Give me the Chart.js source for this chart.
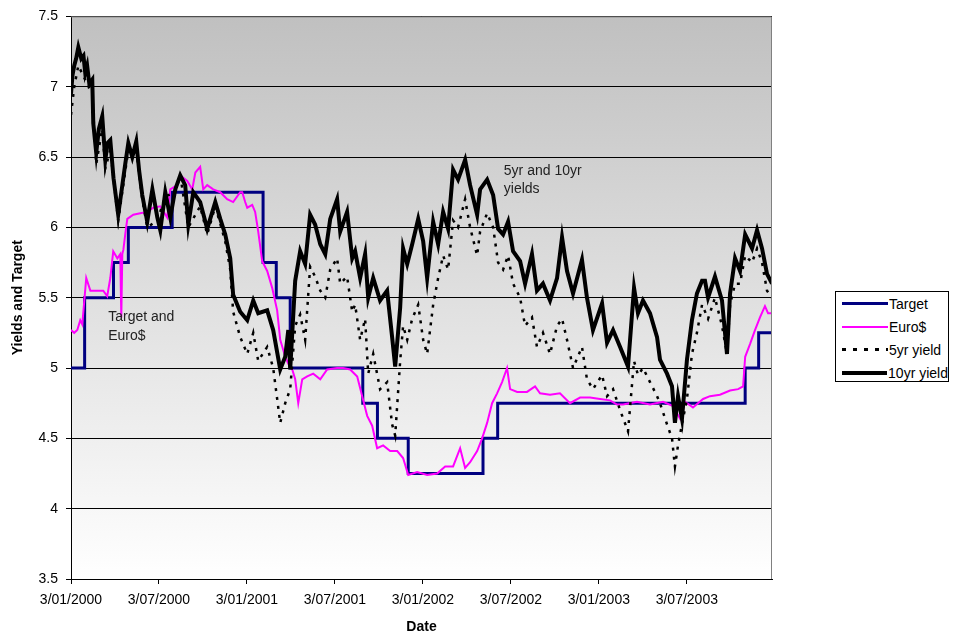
<!DOCTYPE html>
<html>
<head>
<meta charset="utf-8">
<script src="https://cdn.jsdelivr.net/npm/chart.js@4.4.1/dist/chart.umd.min.js"></script>
<style>
  body { margin: 0; background: #fff; }
  #wrap { position: relative; width: 953px; height: 638px; }
  #legend {
    position: absolute; left: 835px; top: 291px; width: 114px; height: 91px;
    border: 1px solid #000; background: #fff; box-sizing: border-box;
    font: 14px "Liberation Sans", Arial, sans-serif; color: #000;
  }
  #legend .row { height: 23px; display: flex; align-items: center; white-space: nowrap; }
  #legend .sample { width: 46px; margin-left: 6px; margin-right: 1px; }
</style>
</head>
<body>
<div id="wrap">
  <canvas id="c" width="953" height="638"></canvas>
  <div id="legend"></div>
</div>
<script>
// x = months since 3 Jan 2000, y = percent
const xTickMonths = [0, 6, 12, 18, 24, 30, 36, 42];
const xTickLabels = ['3/01/2000', '3/07/2000', '3/01/2001', '3/07/2001', '3/01/2002', '3/07/2002', '3/01/2003', '3/07/2003'];
const yTicks = [3.5, 4, 4.5, 5, 5.5, 6, 6.5, 7, 7.5];
const seriesNames = ['Target', 'Euro$', '5yr yield', '10yr yield'];

const target = [[0,5.0],[0.93,5.5],[2.9,5.75],[3.91,6.0],[6.9,6.25],[13.1,5.75],[14.0,5.5],[14.95,5.0],
  [19.9,4.75],[20.9,4.5],[23.0,4.25],[28.1,4.5],[29.1,4.75],[45.98,5.0],[46.9,5.25],[47.81,5.25]];

const euro = [[0,5.27],[0.22,5.25],[0.43,5.27],[0.63,5.34],[0.77,5.31],[1.04,5.64],[1.32,5.55],[1.79,5.55],
  [2.2,5.55],[2.47,5.51],[2.68,5.64],[2.88,5.83],[3.16,5.78],[3.36,5.81],[3.43,5.36],[3.5,5.81],[3.57,5.84],
  [3.7,5.95],[3.84,6.06],[4.25,6.09],[4.72,6.1],[5.2,6.11],[5.61,6.14],[6.09,6.15],[6.56,6.07],[6.77,6.27],
  [7.25,6.3],[7.45,6.37],[7.93,6.33],[8.27,6.27],[8.48,6.39],[8.81,6.43],[9.02,6.27],[9.29,6.3],[9.7,6.27],
  [10.18,6.25],[10.65,6.2],[11.06,6.18],[11.54,6.25],[11.68,6.25],[11.88,6.18],[12.02,6.14],[12.36,6.16],
  [12.56,6.11],[12.77,5.97],[13.04,5.76],[13.38,5.69],[13.72,5.57],[14.06,5.41],[14.27,5.2],[14.61,5.08],
  [14.82,5.03],[15.09,4.99],[15.29,4.92],[15.5,4.75],[15.77,4.92],[16.11,4.94],[16.52,4.96],[17.0,4.92],
  [17.47,4.99],[18.15,5.0],[18.56,5.0],[19.04,4.99],[19.52,4.94],[19.86,4.8],[20.2,4.66],[20.54,4.59],
  [20.88,4.43],[21.29,4.45],[21.77,4.41],[22.25,4.41],[22.65,4.36],[23.0,4.24],[23.61,4.26],[24.29,4.24],
  [24.97,4.25],[25.52,4.3],[26.06,4.3],[26.54,4.43],[26.88,4.29],[27.22,4.33],[27.7,4.41],[28.04,4.5],
  [28.38,4.61],[28.72,4.75],[29.06,4.82],[29.4,4.9],[29.74,5.0],[29.95,4.85],[30.43,4.83],[31.1,4.83],
  [31.65,4.87],[31.99,4.82],[32.67,4.81],[33.35,4.82],[34.03,4.75],[34.72,4.79],[35.4,4.79],[36.08,4.78],
  [36.76,4.77],[37.24,4.74],[37.65,4.74],[38.6,4.76],[39.49,4.74],[40.38,4.76],[41.06,4.73],[41.54,4.64],
  [41.88,4.76],[42.42,4.72],[43.11,4.78],[43.58,4.8],[44.26,4.81],[44.95,4.84],[45.5,4.85],[45.84,4.87],
  [45.98,5.08],[46.31,5.17],[46.65,5.27],[46.99,5.36],[47.33,5.44],[47.54,5.39],[47.81,5.39]];

const fiveYr = [[0,6.8],[0.22,7.0],[0.5,7.15],[0.97,7.05],[1.45,6.95],[1.72,6.45],[2.13,6.7],[2.34,6.42],
  [2.68,6.55],[3.22,6.05],[3.91,6.55],[4.45,6.55],[4.86,6.2],[5.2,6.0],[5.89,6.05],[6.43,6.22],[7.11,6.25],
  [7.45,6.37],[8.0,6.0],[8.81,6.15],[9.29,5.95],[9.84,6.15],[10.52,5.9],[10.86,5.7],[11.06,5.4],[11.54,5.22],
  [12.02,5.1],[12.43,5.25],[12.77,5.05],[13.38,5.15],[13.79,5.0],[14.27,4.61],[14.61,4.75],[14.95,4.85],
  [15.29,5.3],[15.63,5.38],[15.97,5.2],[16.31,5.72],[16.65,5.65],[17.0,5.55],[17.34,5.5],[17.68,5.7],
  [18.15,5.78],[18.36,5.6],[18.83,5.65],[19.18,5.4],[19.38,5.45],[19.72,5.2],[20.06,5.35],[20.27,4.96],
  [20.61,5.1],[21.08,4.85],[21.56,4.9],[21.9,4.6],[22.11,4.52],[22.45,5.05],[22.65,5.3],[22.93,5.2],
  [23.27,5.35],[23.68,5.45],[24.02,5.2],[24.29,5.1],[24.7,5.45],[25.04,5.64],[25.38,5.8],[25.72,5.7],
  [26.06,6.05],[26.4,6.0],[26.88,6.2],[27.22,6.0],[27.7,5.8],[27.9,5.97],[28.38,6.1],[28.79,6.0],
  [29.13,5.75],[29.47,5.7],[29.81,5.8],[30.15,5.6],[30.63,5.5],[30.97,5.3],[31.44,5.36],[31.78,5.15],
  [32.19,5.25],[32.67,5.1],[33.15,5.3],[33.49,5.35],[33.83,5.2],[34.24,5.0],[34.85,5.15],[35.19,4.92],
  [35.6,4.85],[36.22,4.95],[36.56,4.8],[36.97,4.85],[37.45,4.7],[37.99,4.55],[38.4,5.05],[38.67,4.95],
  [39.01,5.0],[39.49,4.9],[39.97,4.8],[40.17,4.75],[40.65,4.6],[40.99,4.5],[41.19,4.3],[41.4,4.45],
  [41.67,4.6],[42.01,4.78],[42.35,5.1],[42.69,5.25],[43.04,5.45],[43.45,5.35],[43.92,5.5],[44.4,5.3],
  [44.74,5.1],[44.95,5.45],[45.29,5.6],[45.63,5.6],[45.98,5.8],[46.45,5.75],[46.79,5.85],[47.13,5.75],
  [47.47,5.55],[47.81,5.5]];

const tenYr = [[0,6.95],[0.1,7.08],[0.22,7.15],[0.35,7.2],[0.5,7.28],[0.7,7.2],[0.85,7.22],[0.97,7.1],
  [1.1,7.15],[1.25,7.02],[1.45,7.05],[1.52,6.74],[1.72,6.53],[1.9,6.7],[2.13,6.79],[2.34,6.48],[2.5,6.6],
  [2.68,6.62],[2.9,6.35],[3.22,6.09],[3.5,6.3],[3.7,6.45],[3.91,6.6],[4.18,6.5],[4.45,6.61],[4.65,6.4],
  [4.86,6.23],[5.2,6.04],[5.55,6.27],[5.89,6.07],[6.09,5.98],[6.43,6.25],[6.77,6.07],[7.11,6.27],[7.45,6.37],
  [7.79,6.3],[8.0,6.02],[8.34,6.25],[8.81,6.18],[9.29,5.99],[9.84,6.18],[10.18,6.06],[10.52,5.95],
  [10.86,5.78],[11.06,5.52],[11.54,5.4],[12.02,5.34],[12.43,5.48],[12.77,5.39],[13.38,5.41],[13.79,5.27],
  [14.27,4.99],[14.61,5.08],[14.82,5.27],[14.95,4.99],[15.29,5.62],[15.63,5.83],[15.97,5.74],[16.31,6.09],
  [16.65,6.02],[17.0,5.88],[17.34,5.81],[17.68,6.06],[18.15,6.2],[18.36,5.97],[18.83,6.11],[19.18,5.78],
  [19.38,5.83],[19.72,5.64],[20.06,5.81],[20.27,5.5],[20.61,5.64],[21.08,5.48],[21.56,5.55],[21.9,5.22],
  [22.11,5.01],[22.45,5.43],[22.65,5.85],[22.93,5.74],[23.27,5.88],[23.68,6.06],[24.02,5.9],[24.29,5.64],
  [24.7,6.04],[25.04,5.88],[25.38,6.11],[25.72,5.99],[26.06,6.41],[26.4,6.34],[26.88,6.48],[27.22,6.3],
  [27.7,6.09],[27.9,6.27],[28.38,6.34],[28.79,6.23],[29.13,5.99],[29.47,5.95],[29.81,6.04],[30.15,5.83],
  [30.63,5.76],[30.97,5.6],[31.44,5.81],[31.78,5.55],[32.19,5.6],[32.67,5.48],[33.15,5.64],[33.49,5.93],
  [33.83,5.69],[34.24,5.53],[34.85,5.77],[35.19,5.5],[35.6,5.27],[36.22,5.46],[36.56,5.18],[36.97,5.27],
  [37.45,5.15],[37.99,5.01],[38.4,5.57],[38.67,5.39],[39.01,5.48],[39.49,5.39],[39.97,5.22],[40.17,5.06],
  [40.65,4.96],[40.99,4.87],[41.19,4.61],[41.4,4.8],[41.67,4.64],[42.01,5.06],[42.35,5.34],[42.69,5.53],
  [43.04,5.62],[43.24,5.62],[43.45,5.5],[43.92,5.65],[44.4,5.48],[44.74,5.1],[44.95,5.53],[45.29,5.78],
  [45.63,5.69],[45.98,5.95],[46.45,5.85],[46.79,5.98],[47.13,5.85],[47.47,5.67],[47.81,5.6]];

const toPoints = arr => arr.map(p => ({ x: p[0], y: p[1] }));
const FONT = '"Liberation Sans", Arial, sans-serif';

// gray-to-white plot background + gray top/right frame
const plotBackground = {
  id: 'plotBackground',
  beforeDraw(chart) {
    const { ctx, chartArea: a } = chart;
    const g = ctx.createLinearGradient(0, a.top, 0, a.bottom);
    g.addColorStop(0, '#c0c0c0');
    g.addColorStop(1, '#ffffff');
    ctx.save();
    ctx.fillStyle = g;
    ctx.fillRect(a.left, a.top, a.right - a.left, a.bottom - a.top);
    ctx.restore();
  },
  afterDraw(chart) {
    const { ctx, chartArea: a } = chart;
    ctx.save();
    ctx.strokeStyle = '#808080';
    ctx.lineWidth = 1;
    ctx.beginPath();
    ctx.moveTo(a.left, a.top + 0.5);
    ctx.lineTo(a.right - 0.5, a.top + 0.5);
    ctx.lineTo(a.right - 0.5, a.bottom);
    ctx.stroke();
    ctx.restore();
  }
};

// text notes placed in data coordinates
const notes = {
  id: 'notes',
  afterDatasetsDraw(chart, args, opts) {
    const { ctx, scales } = chart;
    ctx.save();
    ctx.font = '14px ' + FONT;
    ctx.fillStyle = '#222';
    ctx.textBaseline = 'middle';
    opts.items.forEach(n => {
      const x = scales.x.getPixelForValue(n.x);
      n.lines.forEach((t, i) => {
        ctx.fillText(t, x, scales.y.getPixelForValue(n.y) + i * 18.5);
      });
    });
    ctx.restore();
  }
};

const styles = [
  { borderColor: '#000080', borderWidth: 3, stepped: 'before', order: 3 },
  { borderColor: '#ff00ff', borderWidth: 2, order: 2 },
  { borderColor: '#000000', borderWidth: 2.5, borderDash: [3, 6], order: 1 },
  { borderColor: '#000000', borderWidth: 4, order: 0 }
];
const seriesData = [target, euro, fiveYr, tenYr];

const chart = new Chart(document.getElementById('c'), {
  type: 'line',
  data: {
    datasets: seriesData.map((d, i) => Object.assign({
      label: seriesNames[i],
      data: toPoints(d),
      pointRadius: 0,
      tension: 0,
      fill: false
    }, styles[i]))
  },
  options: {
    responsive: false,
    animation: false,
    layout: { padding: { top: 8, right: 181, bottom: 0, left: 0 } },
    plugins: {
      legend: { display: false },
      tooltip: { enabled: false },
      notes: {
        items: [
          { x: 2.54, y: 5.36, lines: ['Target and', 'Euro$'] },
          { x: 29.52, y: 6.40, lines: ['5yr and 10yr', 'yields'] }
        ]
      }
    },
    scales: {
      x: {
        type: 'linear',
        min: 0,
        max: 47.81,
        afterBuildTicks: axis => { axis.ticks = xTickMonths.map(v => ({ value: v })); },
        afterFit: axis => { axis.height = 59; },
        ticks: {
          autoSkip: false,
          maxRotation: 0,
          padding: 8,
          color: '#000',
          font: { family: FONT, size: 14 },
          callback: (v, i) => xTickLabels[i]
        },
        grid: { drawOnChartArea: false, drawTicks: true, tickLength: 5, color: '#000' },
        border: { display: true, color: '#000', width: 1 },
        title: {
          display: true,
          text: 'Date',
          color: '#000',
          font: { family: FONT, size: 14, weight: 'bold' },
          padding: { top: 0, bottom: 2 }
        }
      },
      y: {
        min: 3.5,
        max: 7.5,
        afterBuildTicks: axis => { axis.ticks = yTicks.map(v => ({ value: v })); },
        afterFit: axis => { axis.width = 71; },
        ticks: {
          padding: 8,
          color: '#000',
          font: { family: FONT, size: 14 },
          callback: v => String(v)
        },
        grid: { color: '#000', lineWidth: 1, tickLength: 5 },
        border: { display: true, color: '#000', width: 1 },
        title: {
          display: true,
          text: 'Yields and Target',
          color: '#000',
          font: { family: FONT, size: 14, weight: 'bold' },
          padding: { top: 9.5, bottom: 0 }
        }
      }
    }
  },
  plugins: [plotBackground, notes]
});

// legend box built from the dataset styles
const legend = document.getElementById('legend');
seriesNames.forEach((name, i) => {
  const s = styles[i];
  const row = document.createElement('div');
  row.className = 'row';
  const sample = document.createElement('div');
  sample.className = 'sample';
  if (s.borderDash) {
    sample.style.height = '3px';
    sample.style.background = 'repeating-linear-gradient(90deg,#000 0 4px,transparent 4px 11px)';
  } else {
    sample.style.height = s.borderWidth + 'px';
    sample.style.background = s.borderColor;
  }
  const label = document.createElement('span');
  label.textContent = name;
  row.appendChild(sample);
  row.appendChild(label);
  legend.appendChild(row);
});
</script>
</body>
</html>
